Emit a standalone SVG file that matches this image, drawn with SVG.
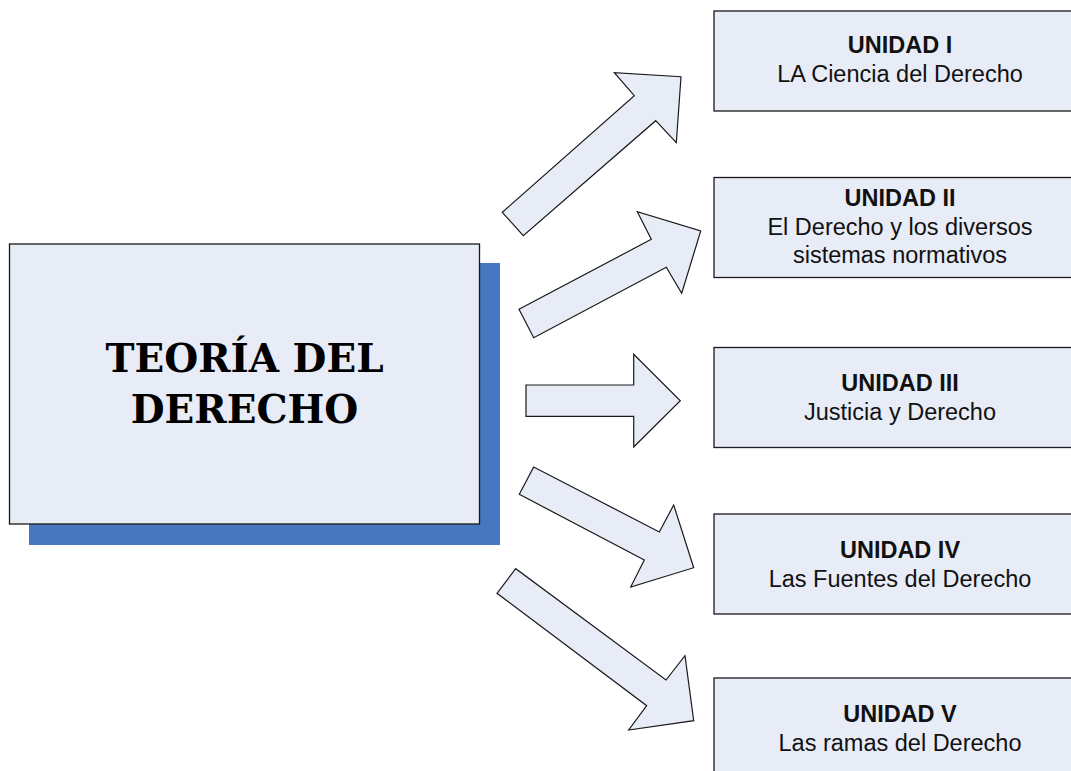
<svg xmlns="http://www.w3.org/2000/svg" width="1071" height="771" viewBox="0 0 1071 771">
<style>
.box{fill:#e8ecf7;stroke:#1a1a1a;stroke-width:1.3}
.arr{fill:#e8ecf7;stroke:#1a1a1a;stroke-width:1.2;stroke-linejoin:miter}
.t{font-family:"Liberation Sans",Arial,sans-serif;font-size:23.5px;fill:#111;text-anchor:middle}
.b{font-weight:bold}
.main{font-family:"DejaVu Serif","Liberation Serif",serif;font-weight:bold;font-size:39px;fill:#000;text-anchor:middle}
</style>
<rect width="1071" height="771" fill="#fff"/>
<g id="main">
<rect x="29" y="263" width="471" height="282" fill="#4777be"/>
<rect class="box" x="9.5" y="244" width="470" height="280"/>
<text class="main" x="244.5" y="372">TEORÍA DEL</text>
<text class="main" x="244.5" y="423">DERECHO</text>
</g>
<g id="connectors">
<polygon class="arr" points="502.3,212.3 523.3,235.7 655.7,120.7 676.3,142.7 681,76.7 614.3,72.7 634.3,95.7"/>
<polygon class="arr" points="519,309.3 533.7,337.7 666.3,267.3 681.7,293.3 700.7,231 637.3,211.7 651.3,239.3"/>
<polygon class="arr" points="526,385 526,416.3 633.7,416.3 633.7,447 680.3,400.7 633.7,354.3 633.7,385"/>
<polygon class="arr" points="533.7,467 519.3,494.3 644.3,560 630.7,587 693.7,567.7 673.7,505 659.3,532"/>
<polygon class="arr" points="515.7,568.7 497,593.3 646.7,705.7 628.7,730 693.7,720.7 685,655.7 666,680"/>
</g>
<g id="u1">
<rect class="box" x="714" y="11" width="372" height="100"/>
<text class="t b" x="900" y="53">UNIDAD I</text>
<text class="t" x="900" y="82">LA Ciencia del Derecho</text>
</g>
<g id="u2">
<rect class="box" x="714" y="177.5" width="372" height="100"/>
<text class="t b" x="900" y="206">UNIDAD II</text>
<text class="t" x="900" y="234.5">El Derecho y los diversos</text>
<text class="t" x="900" y="263">sistemas normativos</text>
</g>
<g id="u3">
<rect class="box" x="714" y="347.5" width="372" height="100"/>
<text class="t b" x="900" y="391">UNIDAD III</text>
<text class="t" x="900" y="419.5">Justicia y Derecho</text>
</g>
<g id="u4">
<rect class="box" x="714" y="514" width="372" height="100"/>
<text class="t b" x="900" y="558">UNIDAD IV</text>
<text class="t" x="900" y="586.5">Las Fuentes del Derecho</text>
</g>
<g id="u5">
<rect class="box" x="714" y="678" width="372" height="110"/>
<text class="t b" x="900" y="722">UNIDAD V</text>
<text class="t" x="900" y="750.5">Las ramas del Derecho</text>
</g>
</svg>
